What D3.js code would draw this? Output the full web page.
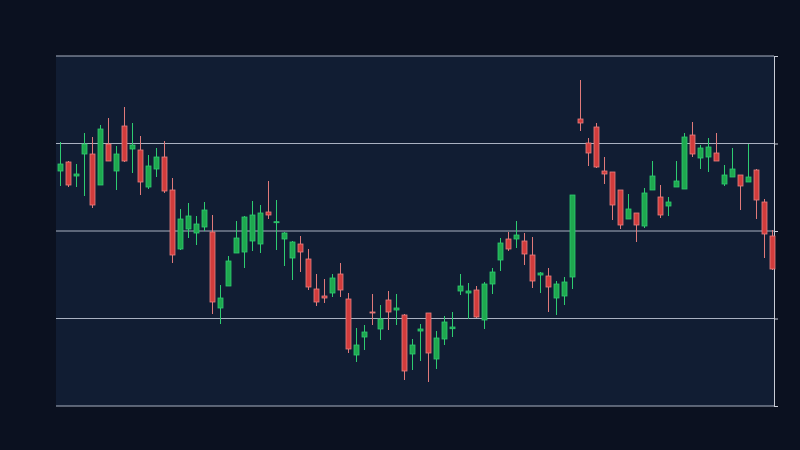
<!DOCTYPE html>
<html><head><meta charset="utf-8">
<script src="https://cdn.jsdelivr.net/npm/d3@7"></script>
<style>html,body{margin:0;background:#0b1120;}</style></head>
<body><svg id="c" width="800" height="450"></svg>
<script>
// Pixel-read y positions converted to price = 406 - y
const rawY = [
[171,164,142,186],[162,185,161,187],[176,174,164,187],[154,144,133,196],[154,205,137,208],
[185,129,125,185],[144,161,118,161],[171,154,146,190],[126,161,107,162],[149,145,123,173],
[150,182,136,195],[187,166,155,189],[169,157,148,177],[157,191,141,193],[190,255,178,263],
[249,219,209,250],[229,216,203,238],[233,224,216,245],[227,210,202,231],[232,302,215,314],
[308,298,285,324],[286,261,256,286],[253,238,221,253],[252,217,216,268],[241,215,201,251],
[244,213,205,253],[212,215,181,219],[222.3,221.7,200,250],[239,233,232,266],[258,242,241,280],
[244,252,236,272],[259,287,249,290],[289,302,274,306],[296,298,279,303],[293,278,274,297],
[274,290,263,297],[299,349,293,353],[355,345,328,362],[337,332,325,350],[312,313,294,325],
[329,319,305,340],[300,312,291,330],[310,308,294,325],[315,371,314,380],[354,345,339,370],
[331,329,324,361],[313,353,313,382],[359,338,331,369],[339,322,316,345],[328.7,327,312,337],
[291,286,274,295],[293,291,283,319],[290,317,286,318],[320,284,282,329],[284,272,268,294],
[260,243,238,271],[239,249,232,251],[239,235,221,248],[241,254,233,265],[255,281,237,288],
[275,273,272,293],[276,287,268,312],[298,284,281,315],[296,282,277,305],[277,195,195,289],
[119,123,80,131],[143,153,138,166],[127,167,123,168],[171,174,157,184],[172,205,172,220],
[190,225,190,229],[219,209,194,219],[213,225,213,242],[226,193,188,228],[190,176,161,190],
[197,215,185,218],[206,202,197,216],[187,181,161,187],[189,137,133,189],[135,154,122,157],
[158,148,145,169],[157,147,138,172],[153,161,133,161],[184,175,165,186],[177,169,148,177],
[175,186,175,210],[182,177,144,182],[170,200,169,219],[202,234,199,258],[236,269,230,270]
];
const open  = rawY.map(d => 406 - d[0]);
const close = rawY.map(d => 406 - d[1]);
const high  = rawY.map(d => 406 - d[2]);
const low   = rawY.map(d => 406 - d[3]);
const gridValues = [87.5, 175, 262.5];

const svg = d3.select("#c");
const L=56,R=774,T=56,B=406;
svg.append("rect").attr("width",800).attr("height",450).attr("fill","#0b1120");
svg.append("rect").attr("x",L).attr("y",T).attr("width",R-L).attr("height",B-T).attr("fill","#111d33");
const x = d3.scaleLinear().domain([0, open.length-1]).range([60, 772]);
const y = d3.scaleLinear().domain([0, 350]).range([B, T]);

const g = svg.append("g");
[0,...gridValues,350].forEach(v=>{
  g.append("line").attr("x1",L).attr("x2",R).attr("y1",y(v)).attr("y2",y(v))
   .attr("stroke","#a9b1c1").attr("stroke-width",1);
});
const ax = svg.append("g").attr("transform",`translate(${R},0)`)
  .call(d3.axisRight(y).tickValues([0,...gridValues,350]).tickSize(4).tickFormat(""));
ax.selectAll("path,line").attr("stroke","#c8ccd6");

const idx = d3.range(open.length);
const up = i => close[i] >= open[i];
const cg = svg.append("g");
cg.selectAll("line.w").data(idx).join("line")
  .attr("x1",i=>x(i)+0.5).attr("x2",i=>x(i)+0.5)
  .attr("y1",i=>y(high[i])).attr("y2",i=>y(low[i]))
  .attr("stroke",i=>up(i)?"#2ecc71":"#e07a7a").attr("stroke-width",1);
cg.selectAll("rect.b").data(idx).join("rect")
  .attr("x",i=>x(i)-2).attr("width",5)
  .attr("y",i=>y(Math.max(open[i],close[i])))
  .attr("height",i=>Math.max(1,Math.abs(y(open[i])-y(close[i]))))
  .attr("fill",i=>up(i)?"#1fa84f":"#d23c3c")
  .attr("stroke",i=>up(i)?"#2ecc71":"#e88080").attr("stroke-width",0.8);
</script></body></html>
